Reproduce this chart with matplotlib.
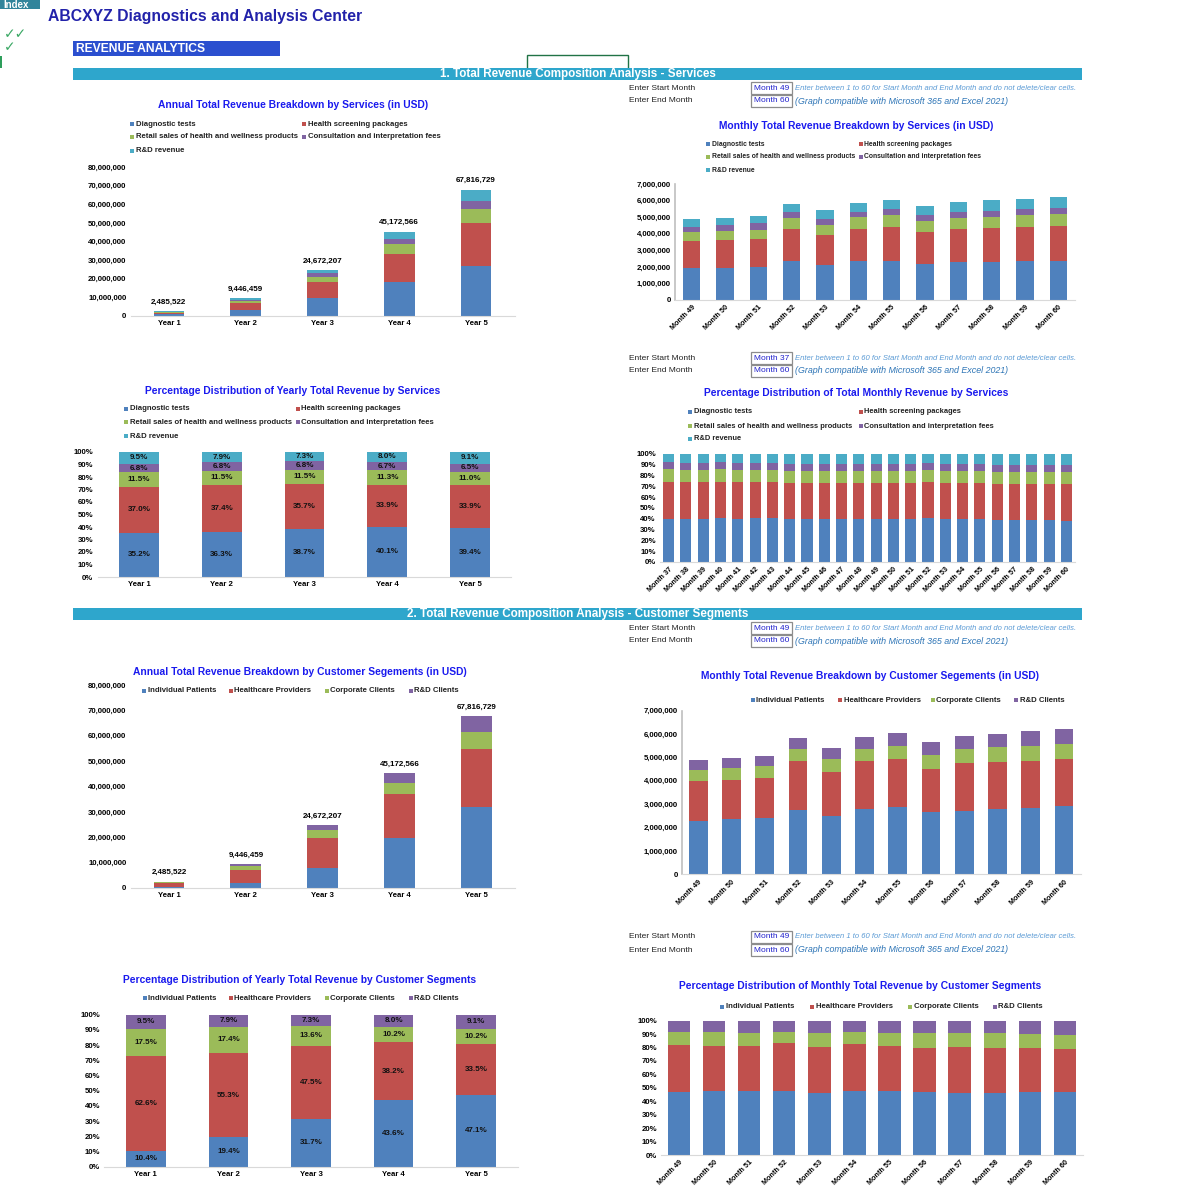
import matplotlib
matplotlib.use("Agg")
import numpy as np
import matplotlib.pyplot as plt
from matplotlib.patches import Rectangle
from matplotlib.ticker import FuncFormatter, MultipleLocator

plt.rcParams['font.family'] = ['Liberation Sans', 'DejaVu Sans']

W = H = 1200
BLUE, RED, GREEN, PURPLE, TEAL = '#4f81bd', '#c0504d', '#9bbb59', '#8064a2', '#4bacc6'
TITLE_BLUE = '#1a1aee'

# ---------- data ----------
years = ["Year 1", "Year 2", "Year 3", "Year 4", "Year 5"]
year_totals = [2485522, 9446459, 24672207, 45172566, 67816729]

svc_names = ["Diagnostic tests", "Health screening packages",
             "Retail sales of health and wellness products",
             "Consultation and interpretation fees", "R&D revenue"]
diag_year_pct = [35.2, 36.3, 38.7, 40.1, 39.4]
screen_year_pct = [37.0, 37.4, 35.7, 33.9, 33.9]
retail_year_pct = [11.5, 11.5, 11.5, 11.3, 11.0]
consult_year_pct = [6.8, 6.8, 6.8, 6.7, 6.5]
rd_year_pct = [9.5, 7.9, 7.3, 8.0, 9.1]

seg_names = ["Individual Patients", "Healthcare Providers", "Corporate Clients", "R&D Clients"]
indiv_year_pct = [10.4, 19.4, 31.7, 43.6, 47.1]
health_year_pct = [62.6, 55.3, 47.5, 38.2, 33.5]
corp_year_pct = [17.5, 17.4, 13.6, 10.2, 10.2]
rdc_year_pct = [9.5, 7.9, 7.3, 8.0, 9.1]

months_49_60 = [f"Month {m}" for m in range(49, 61)]
diag_month = [1940000, 1960000, 1980000, 2340000, 2100000, 2340000, 2380000, 2200000, 2300000, 2320000, 2340000, 2360000]
screen_month = [1630000, 1670000, 1730000, 1950000, 1850000, 1970000, 2040000, 1890000, 2010000, 2030000, 2080000, 2120000]
retail_month = [540000, 540000, 540000, 650000, 590000, 670000, 680000, 650000, 650000, 670000, 680000, 680000]
consult_month = [310000, 350000, 370000, 380000, 360000, 360000, 380000, 360000, 380000, 380000, 380000, 400000]
rd_month = [460000, 440000, 460000, 500000, 510000, 540000, 570000, 550000, 580000, 610000, 640000, 650000]

indiv_month = [2280000, 2370000, 2430000, 2770000, 2510000, 2800000, 2880000, 2670000, 2720000, 2780000, 2850000, 2910000]
health_month = [1700000, 1670000, 1680000, 2070000, 1860000, 2040000, 2040000, 1850000, 2030000, 2010000, 2010000, 2010000]
corp_month = [490000, 500000, 510000, 510000, 550000, 540000, 590000, 600000, 630000, 650000, 650000, 640000]
rdc_month = [410000, 420000, 460000, 470000, 490000, 500000, 540000, 530000, 540000, 570000, 610000, 650000]

months_37_60 = [f"Month {m}" for m in range(37, 61)]
diag_share_m = [39.8, 39.8, 39.8, 40.4, 39.8, 40.4, 40.4, 40.1, 40.1, 40.1, 40.1, 40.1,
                40.1, 40.1, 39.8, 40.4, 39.5, 40.1, 39.8, 38.9, 38.9, 38.9, 38.9, 38.3]
screen_share_m = [34.6, 34.6, 34.3, 34.0, 34.3, 34.0, 34.0, 33.4, 33.4, 33.4, 33.4, 33.0,
                  33.4, 33.4, 33.0, 33.7, 33.6, 33.4, 33.7, 33.6, 33.6, 33.6, 33.6, 33.6]
retail_share_m = [11.7, 11.1, 11.4, 11.7, 11.4, 11.1, 11.1, 11.1, 11.1, 11.1, 11.1, 11.5,
                  11.1, 11.1, 11.2, 11.1, 10.9, 11.1, 11.1, 11.1, 11.1, 11.1, 11.1, 11.1]
consult_share_m = [6.5, 6.5, 6.2, 6.5, 6.2, 6.5, 6.5, 6.4, 6.4, 6.4, 6.4, 6.1,
                   6.4, 6.4, 6.7, 6.5, 6.7, 6.4, 6.1, 6.2, 6.5, 6.2, 6.2, 6.5]
rd_share_m = [7.4, 8.0, 8.3, 7.4, 8.3, 8.0, 8.0, 9.0, 9.0, 9.0, 9.0, 9.3,
              9.0, 9.0, 9.3, 8.3, 9.3, 9.0, 9.3, 10.2, 9.9, 10.2, 10.2, 10.5]

svc_colors = [BLUE, RED, GREEN, PURPLE, TEAL]
seg_colors = [BLUE, RED, GREEN, PURPLE]

fig = plt.figure(figsize=(12, 12), dpi=100)
fig.patch.set_facecolor('white')


def fx(x):
    return x / W


def fy(y):
    return 1 - y / H


def ftext(x, y, s, **kw):
    kw.setdefault('va', 'center')
    fig.text(fx(x), fy(y), s, **kw)


def frect(l, t, r, b, **kw):
    fig.patches.append(Rectangle((fx(l), fy(b)), (r - l) / W, (b - t) / H,
                                 transform=fig.transFigure, **kw))


def add_ax(l, t, r, b):
    return fig.add_axes([fx(l), fy(b), (r - l) / W, (b - t) / H])


def legend(names, colors, spots, fs=5.6):
    for n, c, (x, y) in zip(names, colors, spots):
        frect(x, y - 2, x + 4, y + 2, color=c, lw=0)
        ftext(x + 5.5, y, n, fontsize=fs, fontweight='bold', color='#222222')


def style(ax, left_spine=False, rot=False, fs=5.6):
    for s in ['top', 'right']:
        ax.spines[s].set_visible(False)
    ax.spines['left'].set_visible(left_spine)
    ax.spines['left'].set_color('#bfbfbf')
    ax.spines['left'].set_linewidth(1.2)
    ax.spines['bottom'].set_color('#d9d9d9')
    ax.tick_params(length=0, labelsize=fs, pad=3)
    ax.patch.set_alpha(0)
    for lab in ax.get_yticklabels():
        lab.set_fontweight('bold')
    for lab in ax.get_xticklabels():
        lab.set_fontweight('bold')
        if rot:
            lab.set_rotation(45)
            lab.set_ha('right')
            lab.set_rotation_mode('anchor')
            lab.set_fontsize(5.2)


def stacked(ax, labels, series, colors, width):
    x = np.arange(len(labels))
    bottom = np.zeros(len(labels))
    for vals, c in zip(series, colors):
        vals = np.asarray(vals, dtype=float)
        ax.bar(x, vals, width, bottom=bottom, color=c, edgecolor='none')
        bottom = bottom + vals
    ax.set_xlim(-0.5, len(labels) - 0.5)
    ax.set_xticks(x)
    ax.set_xticklabels(labels)
    return x, bottom


comma = FuncFormatter(lambda v, p: f"{v:,.0f}")
pctf = FuncFormatter(lambda v, p: f"{v:.0f}%")


def month_picker(y, start, end):
    ftext(629, y, "Enter Start Month", fontsize=6.05, color='#222222')
    ftext(629, y + 13, "Enter End Month", fontsize=6.05, color='#222222')
    for k, m in enumerate([start, end]):
        yy = y + 13 * k
        frect(751, yy - 6, 792, yy + 6, facecolor='white', edgecolor='#8c8c8c', lw=0.9)
        ftext(771.5, yy, m, fontsize=6, color='#2020cc', ha='center')
    ftext(795, y, "Enter between 1 to 60 for Start Month and End Month and do not delete/clear cells.",
          fontsize=5.5, style='italic', color='#5b9bd5')
    ftext(795, y + 13, "(Graph compatible with Microsoft 365 and Excel 2021)",
          fontsize=6.4, style='italic', color='#2e75b6')


# ---------- header ----------
frect(0, 0, 40, 9, color='#31849b', lw=0)
ftext(3, 4.5, "Index", fontsize=7, fontweight='bold', color='white')
ftext(48, 17, "ABCXYZ Diagnostics and Analysis Center", fontsize=11.3, fontweight='bold', color='#2222aa')
ftext(4, 34, "\u2713\u2713", fontsize=10, color='#3aa864', family=['DejaVu Sans'])
ftext(4, 47, "\u2713", fontsize=10, color='#3aa864', family=['DejaVu Sans'])
frect(0, 56, 1.5, 68, color='#2e9e5b', lw=0)
frect(73, 41, 280, 56, color='#2b4fcf', lw=0)
ftext(76, 48.5, "REVENUE ANALYTICS", fontsize=8.7, fontweight='bold', color='white')
frect(527, 55, 628, 69, facecolor='none', edgecolor='#217346', lw=1)

frect(73, 68, 1082, 80, color='#2ea6cc', lw=0)
ftext(578, 74, "1. Total Revenue Composition Analysis - Services", fontsize=8.4,
      fontweight='bold', color='white', ha='center')
frect(73, 608, 1082, 620, color='#2ea6cc', lw=0)
ftext(578, 614, "2. Total Revenue Composition Analysis - Customer Segments", fontsize=8.4,
      fontweight='bold', color='white', ha='center')

month_picker(88, "Month 49", "Month 60")
month_picker(358, "Month 37", "Month 60")
month_picker(628, "Month 49", "Month 60")
month_picker(937, "Month 49", "Month 60")

tot = np.array(year_totals, dtype=float)
svc_year_pct = [diag_year_pct, screen_year_pct, retail_year_pct, consult_year_pct, rd_year_pct]
seg_year_pct = [indiv_year_pct, health_year_pct, corp_year_pct, rdc_year_pct]

TFS = 7.4

# ---------- A: annual services ----------
ftext(293, 105, "Annual Total Revenue Breakdown by Services (in USD)", fontsize=TFS,
      fontweight='bold', color=TITLE_BLUE, ha='center')
legend(svc_names, svc_colors, [(130, 124), (302, 124), (130, 137), (302, 137), (130, 151)])
ax = add_ax(130.5, 167, 514.5, 316)
svc_year_vals = [tot * np.array(p) / np.sum(svc_year_pct, axis=0) for p in svc_year_pct]
x, top = stacked(ax, years, svc_year_vals, svc_colors, 0.4)
for xi, t in zip(x, year_totals):
    ax.annotate(f"{t:,.0f}", (xi, t), xytext=(0, 4), textcoords='offset points',
                ha='center', va='bottom', fontsize=5.8, fontweight='bold')
ax.set_ylim(0, 80e6)
ax.yaxis.set_major_locator(MultipleLocator(10e6))
ax.yaxis.set_major_formatter(comma)
style(ax)

# ---------- B: monthly services ----------
ftext(856, 126, "Monthly Total Revenue Breakdown by Services (in USD)", fontsize=TFS,
      fontweight='bold', color=TITLE_BLUE, ha='center')
legend(svc_names, svc_colors, [(706, 144), (859, 144), (706, 157), (859, 157), (706, 170)], fs=4.9)
ax = add_ax(675, 184, 1075, 300)
stacked(ax, months_49_60, [diag_month, screen_month, retail_month, consult_month, rd_month],
        svc_colors, 0.53)
ax.set_ylim(0, 7e6)
ax.yaxis.set_major_locator(MultipleLocator(1e6))
ax.yaxis.set_major_formatter(comma)
style(ax, left_spine=True, rot=True)


def pct_labels(ax, x, series):
    bottom = np.zeros(len(x))
    for vals in series:
        vals = np.asarray(vals, dtype=float)
        for xi, b, v in zip(x, bottom, vals):
            ax.text(xi, b + v / 2, f"{v:.1f}%", ha='center', va='center',
                    fontsize=5.8, fontweight='bold', color='#111111')
        bottom = bottom + vals


# ---------- C: pct yearly services ----------
ftext(293, 391, "Percentage Distribution of Yearly Total Revenue by Services", fontsize=TFS,
      fontweight='bold', color=TITLE_BLUE, ha='center')
legend(svc_names, svc_colors, [(124, 409), (296, 409), (124, 422), (296, 422), (124, 436)])
ax = add_ax(97.6, 452, 511.4, 577)
x, _ = stacked(ax, years, svc_year_pct, svc_colors, 0.48)
pct_labels(ax, x, svc_year_pct)
ax.set_ylim(0, 100)
ax.yaxis.set_major_locator(MultipleLocator(10))
ax.yaxis.set_major_formatter(pctf)
style(ax)

# ---------- D: pct monthly services ----------
ftext(856, 393, "Percentage Distribution of Total Monthly Revenue by Services", fontsize=TFS,
      fontweight='bold', color=TITLE_BLUE, ha='center')
legend(svc_names, svc_colors, [(688, 412), (859, 412), (688, 426), (859, 426), (688, 439)], fs=5.4)
ax = add_ax(660, 454, 1075, 562)
share = np.array([diag_share_m, screen_share_m, retail_share_m, consult_share_m, rd_share_m])
share = share / share.sum(axis=0) * 100
stacked(ax, months_37_60, share, svc_colors, 0.64)
ax.set_ylim(0, 100)
ax.yaxis.set_major_locator(MultipleLocator(10))
ax.yaxis.set_major_formatter(pctf)
style(ax, rot=True)

# ---------- E: annual customer segments ----------
ftext(300, 672, "Annual Total Revenue Breakdown by Customer Segements (in USD)", fontsize=TFS,
      fontweight='bold', color=TITLE_BLUE, ha='center')
legend(seg_names, seg_colors, [(142, 691), (229, 691), (325, 691), (409, 691)])
ax = add_ax(130.5, 685, 515, 888)
seg_year_vals = [tot * np.array(p) / np.sum(seg_year_pct, axis=0) for p in seg_year_pct]
x, top = stacked(ax, years, seg_year_vals, seg_colors, 0.4)
for xi, t in zip(x, year_totals):
    ax.annotate(f"{t:,.0f}", (xi, t), xytext=(0, 4), textcoords='offset points',
                ha='center', va='bottom', fontsize=5.8, fontweight='bold')
ax.set_ylim(0, 80e6)
ax.yaxis.set_major_locator(MultipleLocator(10e6))
ax.yaxis.set_major_formatter(comma)
style(ax)

# ---------- F: monthly customer segments ----------
ftext(870, 676, "Monthly Total Revenue Breakdown by Customer Segements (in USD)", fontsize=TFS,
      fontweight='bold', color=TITLE_BLUE, ha='center')
legend(seg_names, seg_colors, [(751, 700), (838, 700), (931, 700), (1014, 700)])
ax = add_ax(681.7, 710.7, 1080.6, 874.3)
seg_month = [indiv_month, health_month, corp_month, rdc_month]
stacked(ax, months_49_60, seg_month, seg_colors, 0.56)
ax.set_ylim(0, 7e6)
ax.yaxis.set_major_locator(MultipleLocator(1e6))
ax.yaxis.set_major_formatter(comma)
style(ax, left_spine=True, rot=True)

# ---------- G: pct yearly customer segments ----------
ftext(300, 980, "Percentage Distribution of Yearly Total Revenue by Customer Segments", fontsize=TFS,
      fontweight='bold', color=TITLE_BLUE, ha='center')
legend(seg_names, seg_colors, [(143, 998), (229, 998), (325, 998), (409, 998)])
ax = add_ax(104.4, 1014.7, 517.6, 1166.7)
x, _ = stacked(ax, years, seg_year_pct, seg_colors, 0.48)
pct_labels(ax, x, seg_year_pct)
ax.set_ylim(0, 100)
ax.yaxis.set_major_locator(MultipleLocator(10))
ax.yaxis.set_major_formatter(pctf)
style(ax)

# ---------- H: pct monthly customer segments ----------
ftext(860, 986, "Percentage Distribution of Monthly Total Revenue by Customer Segments", fontsize=TFS,
      fontweight='bold', color=TITLE_BLUE, ha='center')
legend(seg_names, seg_colors, [(720, 1007), (810, 1007), (908, 1007), (993, 1007)])
ax = add_ax(661.4, 1020.7, 1082.5, 1155)
seg_arr = np.array(seg_month, dtype=float)
stacked(ax, months_49_60, seg_arr / seg_arr.sum(axis=0) * 100, seg_colors, 0.64)
ax.set_ylim(0, 100)
ax.yaxis.set_major_locator(MultipleLocator(10))
ax.yaxis.set_major_formatter(pctf)
style(ax, rot=True)

fig.savefig("out.png", dpi=100, facecolor='white')
